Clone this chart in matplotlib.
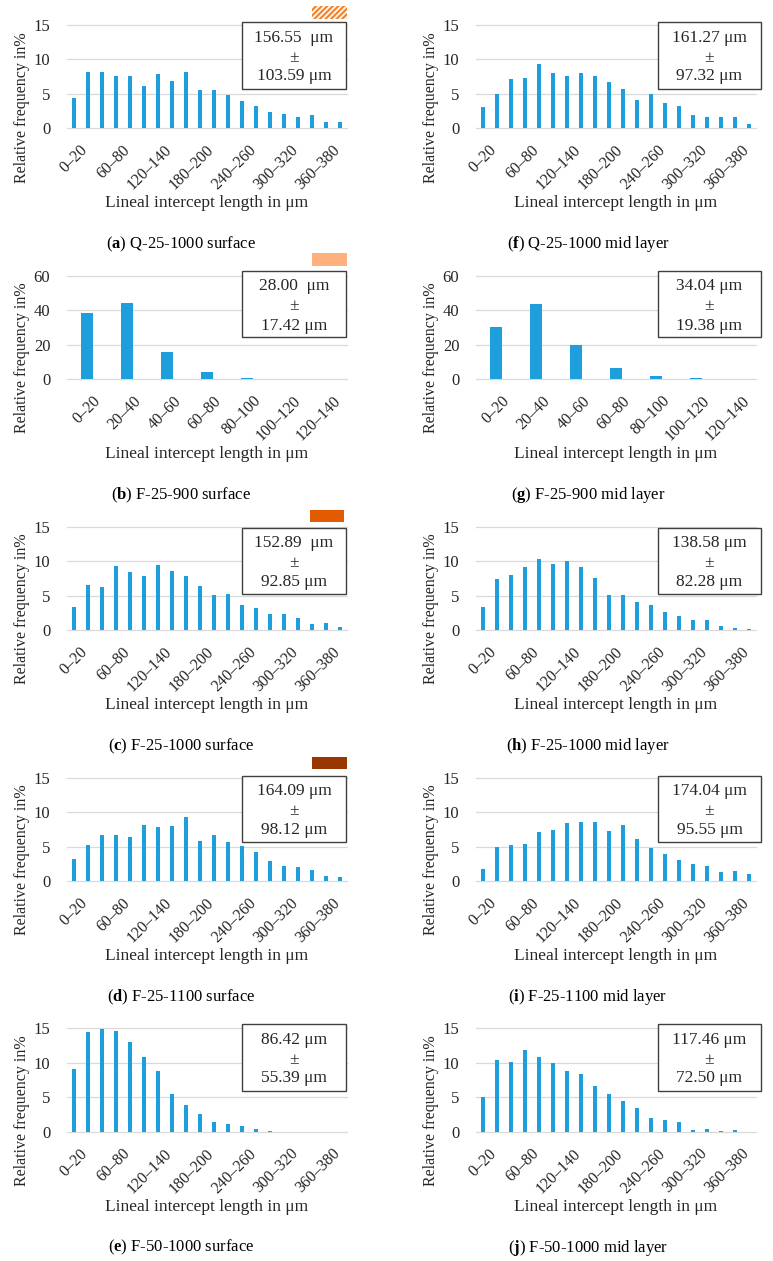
import matplotlib
matplotlib.use('Agg')
import matplotlib.pyplot as plt
from matplotlib.patches import Rectangle
from matplotlib.transforms import ScaledTranslation

plt.rcParams['font.family'] = ['Liberation Serif', 'DejaVu Serif']
plt.rcParams['mathtext.fontset'] = 'custom'
plt.rcParams['mathtext.rm'] = 'Liberation Serif'
plt.rcParams['mathtext.bf'] = 'Liberation Serif:bold'
plt.rcParams['hatch.linewidth'] = 1.6

# ---------------- data ----------------
bins20 = ["0–20", "20–40", "40–60", "60–80", "80–100", "100–120", "120–140",
          "140–160", "160–180", "180–200", "200–220", "220–240", "240–260",
          "260–280", "280–300", "300–320", "320–340", "340–360", "360–380",
          "380–400"]
bins7 = ["0–20", "20–40", "40–60", "60–80", "80–100", "100–120", "120–140"]

q25_1000_surface = [4.4, 8.2, 8.2, 7.6, 7.65, 6.1, 7.9, 6.8, 8.2, 5.5,
                    5.5, 4.8, 4.0, 3.3, 2.35, 2.1, 1.7, 2.0, 0.9, 0.9]
q25_1000_mid = [3.1, 5.05, 7.2, 7.3, 9.3, 8.0, 7.65, 8.1, 7.65, 6.7,
                5.7, 4.1, 5.05, 3.7, 3.2, 1.9, 1.7, 1.6, 1.6, 0.6]
f25_900_surface = [38.6, 43.9, 15.9, 3.9, 0.8, 0.0, 0.0]
f25_900_mid = [30.1, 43.3, 19.8, 6.2, 1.6, 0.5, 0.0]
f25_1000_surface = [3.3, 6.5, 6.2, 9.3, 8.35, 7.9, 9.4, 8.6, 7.85, 6.45,
                    5.05, 5.2, 3.65, 3.2, 2.3, 2.35, 1.8, 0.8, 1.07, 0.4]
f25_1000_mid = [3.4, 7.4, 8.05, 9.15, 10.3, 9.55, 10.0, 9.1, 7.6, 5.1,
                5.1, 4.0, 3.7, 2.6, 2.05, 1.45, 1.5, 0.65, 0.3, 0.15]
f25_1100_surface = [3.25, 5.25, 6.75, 6.65, 6.4, 8.1, 7.85, 7.95, 9.3, 5.75,
                    6.65, 5.65, 5.15, 4.2, 2.9, 2.15, 2.1, 1.55, 0.75, 0.65]
f25_1100_mid = [1.75, 5.0, 5.25, 5.35, 7.15, 7.4, 8.35, 8.6, 8.5, 7.3,
                8.1, 6.1, 4.8, 3.95, 3.0, 2.5, 2.2, 1.35, 1.5, 1.05]
f50_1000_surface = [9.1, 14.5, 14.85, 14.6, 13.0, 10.9, 8.75, 5.45, 3.9, 2.5,
                    1.45, 1.05, 0.85, 0.4, 0.15, 0.0, 0.0, 0.0, 0.0, 0.0]
f50_1000_mid = [5.05, 10.35, 10.05, 11.8, 10.8, 10.0, 8.85, 8.45, 6.6, 5.5,
                4.4, 3.45, 2.0, 1.65, 1.35, 0.3, 0.4, 0.15, 0.25, 0.0]

means = ["156.55  μm", "28.00  μm", "152.89  μm", "164.09 μm", "86.42 μm",
         "161.27 μm", "34.04 μm", "138.58 μm", "174.04 μm", "117.46 μm"]
stds = ["103.59 μm", "17.42 μm", "92.85 μm", "98.12 μm", "55.39 μm",
        "97.32 μm", "19.38 μm", "82.28 μm", "95.55 μm", "72.50 μm"]
letters = ["a", "b", "c", "d", "e", "f", "g", "h", "i", "j"]
names = ["Q-25-1000 surface", "F-25-900 surface", "F-25-1000 surface",
         "F-25-1100 surface", "F-50-1000 surface",
         "Q-25-1000 mid layer", "F-25-900 mid layer", "F-25-1000 mid layer",
         "F-25-1100 mid layer", "F-50-1000 mid layer"]
series = [q25_1000_surface, f25_900_surface, f25_1000_surface,
          f25_1100_surface, f50_1000_surface,
          q25_1000_mid, f25_900_mid, f25_1000_mid, f25_1100_mid, f50_1000_mid]

# ---------------- layout ----------------
W, H = 773, 1261
fig = plt.figure(figsize=(W / 100, H / 100), dpi=100)

BAR = '#1E9FDC'
TXT = '#262626'
zero_ys = [128.3, 379, 630, 881, 1131.7]
AXH = 103.3
cols = [(67, 347), (476, 756)]
box_x = [(242, 346), (658, 761)]
ylab_x = [22, 431]
cap_x = [181, 588]
box_dy = [-106.3, -108, -102.3, -105.3, -107.7]
FS = 11.5


def fx(x):
    return x / W


def fy(y):
    return 1 - y / H


for k in range(10):
    col = k // 5
    row = k % 5
    zy = zero_ys[row]
    x0, x1 = cols[col]
    ax = fig.add_axes([fx(x0), fy(zy), (x1 - x0) / W, AXH / H])
    vals = series[k]
    n = len(vals)
    small = (n == 7)
    cats = bins7 if small else bins20
    ax.bar(range(n), vals, width=0.32 if small else 0.3, color=BAR, zorder=3)
    ax.set_xlim(-0.5, n - 0.5)
    ymax = 60 if small else 15
    ax.set_ylim(0, ymax)
    ax.set_yticks([0, 20, 40, 60] if small else [0, 5, 10, 15])
    ax.yaxis.grid(True, color='#D9D9D9', lw=0.9, zorder=0)
    for gl in ax.get_ygridlines():
        gl.set_clip_on(False)
    ax.set_axisbelow(True)
    for s in ax.spines.values():
        s.set_visible(False)
    pos = list(range(n)) if small else list(range(0, n, 3))
    ax.set_xticks(pos)
    ax.set_xticklabels([cats[p] for p in pos], rotation=45, ha='right',
                       va='top', rotation_mode='anchor')
    ax.tick_params(axis='y', length=0, labelsize=FS + 0.5, pad=12, colors=TXT)
    ax.tick_params(axis='x', length=0, labelsize=FS, pad=10, colors=TXT)
    off = ScaledTranslation(6 / 100, 0, fig.dpi_scale_trans)
    for lab in ax.get_xticklabels():
        lab.set_transform(lab.get_transform() + off)

    # axis titles
    fig.text(fx(ylab_x[col]), fy(zy - 21), 'Relative frequency in%',
             rotation=90, ha='center', va='center', fontsize=FS, color=TXT)
    fig.text(fx((x0 + x1) / 2), fy(zy + 75), 'Lineal intercept length in μm',
             ha='center', va='center', fontsize=12.5, color=TXT)
    # caption
    fig.text(fx(cap_x[col]), fy(zy + 116),
             r'($\mathbf{' + letters[k] + r'}$) ' + names[k],
             ha='center', va='center', fontsize=12, color='black')

    # stats box
    bx0, bx1 = box_x[col]
    bt = zy + box_dy[row]
    bh = 66.5
    fig.patches.append(Rectangle((fx(bx0), fy(bt + bh)), (bx1 - bx0) / W,
                                 bh / H, transform=fig.transFigure,
                                 facecolor='white', edgecolor='#404040',
                                 lw=1.0, zorder=5))
    bxc = (bx0 + bx1) / 2
    for dy, t in [(15.5, means[k]), (35.5, '±'), (54.5, stds[k])]:
        fig.text(fx(bxc), fy(bt + dy), t, ha='center', va='center',
                 fontsize=12.5, color=TXT, zorder=6)

# temperature/material swatches (left column, rows a–d)
sw = [((312, 347), (6, 18.7), dict(facecolor='white', hatch='//////',
                                   edgecolor='#F5842A', lw=0)),
      ((312, 347), (253.3, 265.7), dict(facecolor='#FFB07F', lw=0)),
      ((310, 344), (510, 522), dict(facecolor='#E35B00', lw=0)),
      ((312, 347), (756.7, 769.3), dict(facecolor='#9A3600', lw=0))]
for (sx0, sx1), (sy0, sy1), kw in sw:
    fig.patches.append(Rectangle((fx(sx0), fy(sy1)), (sx1 - sx0) / W,
                                 (sy1 - sy0) / H, transform=fig.transFigure,
                                 **kw))

fig.savefig('out.png', dpi=100)
